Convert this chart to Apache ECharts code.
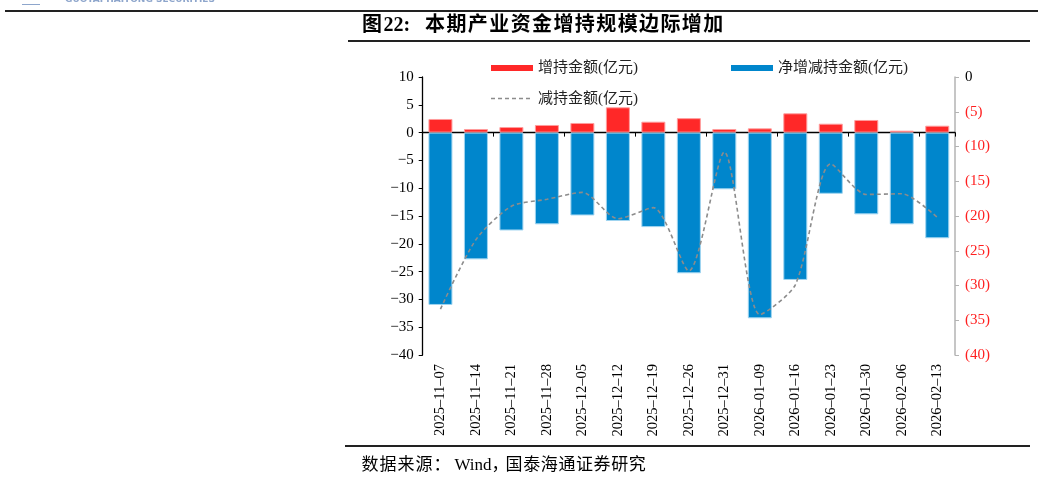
<!DOCTYPE html>
<html><head><meta charset="utf-8">
<script src="https://cdn.jsdelivr.net/npm/echarts@6/dist/echarts.min.js"></script>
<style>html,body{margin:0;padding:0;background:#fff}#c{width:1038px;height:479px}</style>
</head><body><div id="c"></div>
<script>
var dates = ['2025-11-07','2025-11-14','2025-11-21','2025-11-28','2025-12-05','2025-12-12','2025-12-19','2025-12-26','2025-12-31','2026-01-09','2026-01-16','2026-01-23','2026-01-30','2026-02-06','2026-02-13'];
var increase = [2.45,0.65,1.0,1.37,1.73,4.55,1.96,2.6,0.65,0.77,3.47,1.6,2.27,0.35,1.24];
var net = [-31.0,-22.8,-17.6,-16.5,-14.9,-15.9,-17.0,-25.3,-10.2,-33.4,-26.5,-11.0,-14.7,-16.5,-19.0];
var decrease = [33.4,23.4,18.6,17.6,16.6,20.4,18.8,27.9,10.8,34.2,29.9,12.5,16.9,16.8,20.2];
var leftTicks = {min:-40, max:10, interval:5};
var rightTicks = {min:0, max:40, interval:5};
var titleMain = '本期产业资金增持规模边际增加';
var sourceA = '数据来源', sourceB = '国泰海通证券研究';

var serif = '"Liberation Serif","Noto Sans CJK SC",serif';
function boxes(str, tag){ return str.split('').map(function(ch){return '{'+tag+'|'+ch+'}';}).join(''); }
var titleRich = '{c|图}{n|22:}{g| }' + boxes(titleMain, 'c');
var sourceRich = boxes(sourceA, 'c') + '{p|：}{w|Wind}{m|，}' + boxes(sourceB, 'd');

var legText = {fontFamily:serif, fontSize:15, color:'#222'};
var chart = echarts.init(document.getElementById('c'), null, {renderer:'canvas'});
chart.setOption({
  animation:false,
  backgroundColor:'#fff',
  grid:{left:422.7, right:83, top:77, bottom:124, containLabel:false},
  legend:[
    {data:[{name:'增持金额(亿元)', icon:'rect'}], left:491, top:60.5, padding:0, itemWidth:42, itemHeight:6, itemStyle:{borderWidth:0}, textStyle:legText},
    {data:[{name:'净增减持金额(亿元)', icon:'rect'}], left:731, top:60.5, padding:0, itemWidth:42, itemHeight:6, itemStyle:{borderWidth:0}, textStyle:legText},
    {data:[{name:'减持金额(亿元)', icon:'none'}], left:491, top:91.5, padding:0, itemWidth:42, itemHeight:6, textStyle:legText}
  ],
  xAxis:[
    {type:'category', data:dates, axisLine:{onZero:true, lineStyle:{color:'#000', width:1.3}},
     axisTick:{show:true, interval:1, length:4, lineStyle:{color:'#000'}}, axisLabel:{show:false}},
    {type:'category', data:dates, position:'bottom', axisLine:{show:false, onZero:false}, axisTick:{show:false},
     axisLabel:{rotate:90, margin:9, fontFamily:serif, fontSize:14.5, color:'#000', interval:0,
       formatter:function(v){return v.replace(/-/g,'\u2013');}}}
  ],
  yAxis:[
    {type:'value', min:leftTicks.min, max:leftTicks.max, interval:leftTicks.interval, splitLine:{show:false},
     axisLine:{show:true, lineStyle:{color:'#000', width:1.3}}, axisTick:{show:true, length:4, lineStyle:{color:'#000'}},
     axisLabel:{fontFamily:serif, fontSize:15, color:'#000', margin:9, formatter:function(v){return String(v).replace('-','\u2212');}}},
    {type:'value', position:'right', inverse:true, min:rightTicks.min, max:rightTicks.max, interval:rightTicks.interval, splitLine:{show:false},
     axisLine:{show:true, lineStyle:{color:'#b3b3b3', width:1.5}}, axisTick:{show:true, length:4, lineStyle:{color:'#b3b3b3'}},
     axisLabel:{fontFamily:serif, fontSize:15, margin:10,
       formatter:function(v){return v===0?'{z|0}':'{r|('+v+')}';},
       rich:{z:{color:'#000', fontFamily:serif, fontSize:15}, r:{color:'#ff2020', fontFamily:serif, fontSize:15}}}}
  ],
  series:[
    {name:'增持金额(亿元)', type:'bar', stack:'s', barWidth:24, data:increase,
     itemStyle:{color:'#ff2828', borderColor:'#ff9c9c', borderWidth:1}},
    {name:'净增减持金额(亿元)', type:'bar', stack:'s', barWidth:24, data:net,
     itemStyle:{color:'#0086cc', borderColor:'#9fd4f0', borderWidth:1}},
    {name:'减持金额(亿元)', type:'line', yAxisIndex:1, data:decrease, smooth:0.25, symbol:'none',
     lineStyle:{color:'#8c8c8c', type:[4,3], width:1.6}, itemStyle:{color:'#8c8c8c'}}
  ],
  graphic:[
    {type:'rect', shape:{x:5, y:10, width:1033, height:2}, style:{fill:'#222'}},
    {type:'text', left:65, top:-5, style:{text:'GUOTAI HAITONG SECURITIES', fontSize:9, fontFamily:'"DejaVu Sans"', fontWeight:'bold', fill:'#8ea6cc'}},
    {type:'rect', shape:{x:22, y:4, width:18, height:1}, style:{fill:'#8ea6cc'}},
    {type:'line', shape:{x1:491, y1:98.5, x2:533, y2:98.5}, style:{stroke:'#8c8c8c', lineWidth:1.5, lineDash:[4,3]}},
    {type:'text', left:362, top:16, style:{text:titleRich, fill:'#000',
      rich:{c:{fontSize:20, fontWeight:'bold', fontFamily:serif, width:21.4, align:'left'},
            n:{fontSize:20, fontWeight:'bold', fontFamily:serif},
            g:{fontSize:20, width:15}}}},
    {type:'rect', shape:{x:348, y:40, width:682, height:2}, style:{fill:'#222'}},
    {type:'rect', shape:{x:345, y:445, width:685, height:2}, style:{fill:'#222'}},
    {type:'text', left:361.5, top:457, style:{text:sourceRich, fill:'#000',
      rich:{c:{fontSize:17, fontFamily:serif, width:18, align:'left'},
            d:{fontSize:17, fontFamily:serif, width:17.6, align:'left'},
            p:{fontSize:17, fontFamily:serif, width:21, align:'left'},
            w:{fontSize:17, fontFamily:serif},
            m:{fontSize:17, fontFamily:serif, width:14, align:'left'}}}}
  ]
});
</script></body></html>
